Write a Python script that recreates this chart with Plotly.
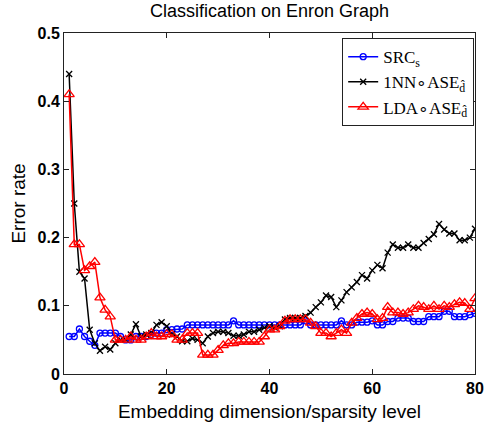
import plotly.graph_objects as go

x = list(range(1, 81))

src = [0.055, 0.055, 0.066, 0.055, 0.048, 0.042, 0.060, 0.060, 0.060, 0.060,
       0.055, 0.050, 0.050, 0.055, 0.055, 0.055, 0.058, 0.060, 0.060, 0.065,
       0.065, 0.066, 0.066, 0.072, 0.072, 0.072, 0.072, 0.072, 0.072, 0.072,
       0.072, 0.072, 0.078, 0.072, 0.072, 0.072, 0.072, 0.072, 0.072, 0.072,
       0.072, 0.072, 0.072, 0.072, 0.072, 0.072, 0.078, 0.072, 0.072, 0.072,
       0.072, 0.072, 0.072, 0.078, 0.072, 0.072, 0.076, 0.076, 0.076, 0.078,
       0.072, 0.072, 0.077, 0.077, 0.082, 0.082, 0.082, 0.077, 0.077, 0.077,
       0.084, 0.084, 0.084, 0.092, 0.092, 0.084, 0.084, 0.084, 0.087, 0.089]

nn = [0.440, 0.250, 0.150, 0.140, 0.065, 0.045, 0.034, 0.040, 0.036, 0.045,
      0.050, 0.050, 0.058, 0.073, 0.055, 0.058, 0.060, 0.072, 0.076, 0.070,
      0.058, 0.055, 0.048, 0.048, 0.052, 0.050, 0.045, 0.055, 0.060, 0.062,
      0.062, 0.060, 0.056, 0.056, 0.058, 0.062, 0.062, 0.065, 0.068, 0.070,
      0.068, 0.070, 0.080, 0.082, 0.082, 0.082, 0.085, 0.090, 0.098, 0.105,
      0.115, 0.113, 0.098, 0.108, 0.120, 0.127, 0.135, 0.145, 0.140, 0.152,
      0.160, 0.155, 0.178, 0.190, 0.185, 0.185, 0.190, 0.185, 0.185, 0.192,
      0.198, 0.205, 0.220, 0.212, 0.206, 0.206, 0.196, 0.196, 0.200, 0.213]

lda = [0.410, 0.190, 0.190, 0.152, 0.158, 0.164, 0.112, 0.094, 0.084, 0.050,
       0.050, 0.050, 0.055, 0.050, 0.050, 0.055, 0.060, 0.055, 0.055, 0.058,
       0.058, 0.050, 0.050, 0.060, 0.060, 0.060, 0.028, 0.028, 0.028, 0.035,
       0.042, 0.045, 0.045, 0.047, 0.047, 0.047, 0.047, 0.047, 0.055, 0.065,
       0.065, 0.070, 0.078, 0.080, 0.080, 0.080, 0.080, 0.075, 0.070, 0.060,
       0.060, 0.055, 0.060, 0.065, 0.060, 0.075, 0.082, 0.088, 0.090, 0.088,
       0.080, 0.082, 0.098, 0.090, 0.090, 0.088, 0.090, 0.095, 0.100, 0.098,
       0.095, 0.100, 0.095, 0.100, 0.098, 0.102, 0.105, 0.104, 0.095, 0.111]

names = ["SRC<sub>s</sub>", "1NN∘ASE<sub>d̂</sub>", "LDA∘ASE<sub>d̂</sub>"]

fig = go.Figure()
fig.add_trace(go.Scatter(x=x, y=src, mode="lines+markers", name=names[0],
                         line=dict(color="#0000ff", width=1.5),
                         marker=dict(symbol="circle-open", size=6, color="#0000ff", line=dict(width=1.3))))
fig.add_trace(go.Scatter(x=x, y=nn, mode="lines+markers", name=names[1],
                         line=dict(color="#000000", width=1.5),
                         marker=dict(symbol="x-thin-open", size=6, color="#000000", line=dict(width=1.3))))
fig.add_trace(go.Scatter(x=x, y=lda, mode="lines+markers", name=names[2],
                         line=dict(color="#ff0000", width=1.5),
                         marker=dict(symbol="triangle-up-open", size=9, color="#ff0000", line=dict(width=1.3))))

axis_common = dict(showline=True, linecolor="#222222", linewidth=1, mirror="ticks",
                   ticks="inside", ticklen=5, tickcolor="#222222", showgrid=False, zeroline=False,
                   automargin=False,
                   tickfont=dict(family="Liberation Sans, Arial, sans-serif", size=16, color="black", weight="bold"))

fig.update_layout(
    width=485, height=427,
    margin=dict(l=64, r=10, t=33, b=53),
    paper_bgcolor="white", plot_bgcolor="white",
    title=dict(text="Classification on Enron Graph", xref="paper", x=0.5, xanchor="center",
               yref="container", y=0.99, yanchor="top",
               font=dict(family="Liberation Sans, Arial, sans-serif", size=18, color="black")),
    xaxis=dict(range=[0, 80], tickvals=[0, 20, 40, 60, 80],
               title=dict(text="Embedding dimension/sparsity level", standoff=8,
                          font=dict(family="Liberation Sans, Arial, sans-serif", size=19, color="black")),
               **axis_common),
    yaxis=dict(range=[0, 0.5], tickvals=[0, 0.1, 0.2, 0.3, 0.4, 0.5],
               ticktext=["0", "0.1", "0.2", "0.3", "0.4", "0.5"],
               title=dict(text="Error rate", standoff=6,
                          font=dict(family="Liberation Sans, Arial, sans-serif", size=19, color="black")),
               **axis_common),
    legend=dict(x=0.998, y=0.985, xanchor="right", yanchor="top",
                bgcolor="white", bordercolor="#222222", borderwidth=1,
                font=dict(family="Liberation Serif, Times New Roman, serif", size=17, color="black"),
                tracegroupgap=0, itemwidth=30),
    showlegend=True,
)

fig.write_html("out.html")
